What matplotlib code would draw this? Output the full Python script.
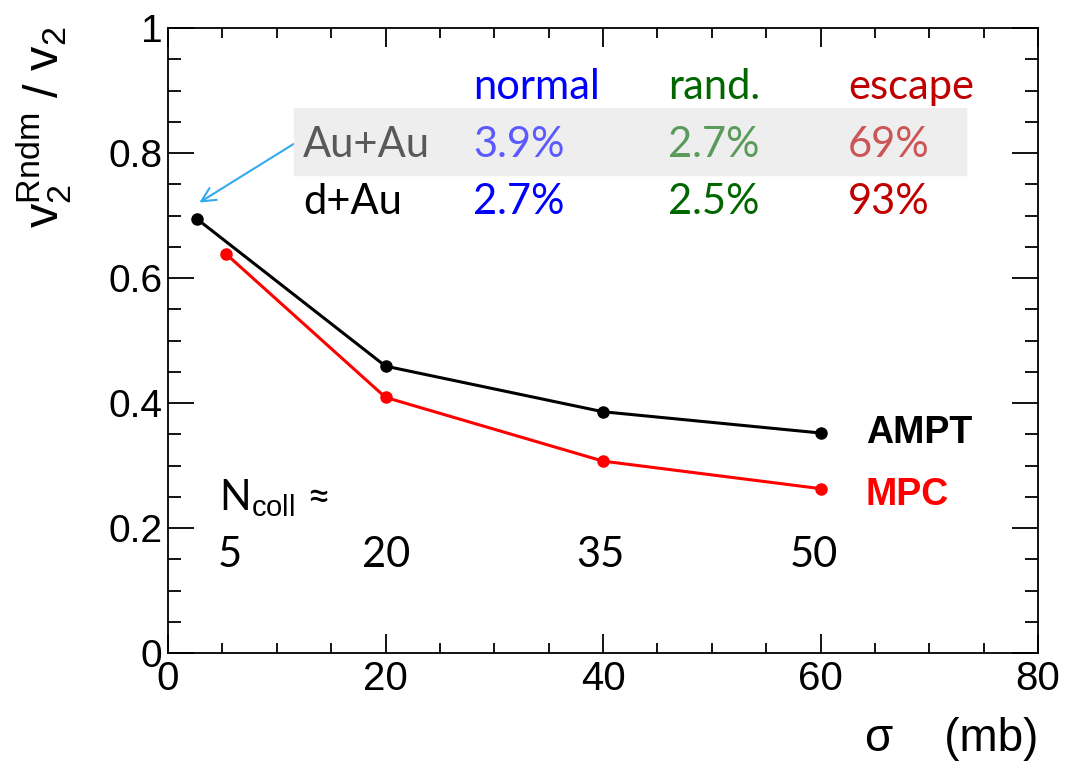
import matplotlib
matplotlib.use("Agg")
import matplotlib.pyplot as plt
from matplotlib.patches import Rectangle
from matplotlib.ticker import MultipleLocator, FuncFormatter

# 데이터
SIGMA_AMPT = [2.7, 20.0, 40.0, 60.0]
RATIO_AMPT = [0.694, 0.459, 0.386, 0.352]
SIGMA_MPC = [5.3, 20.0, 40.0, 60.0]
RATIO_MPC = [0.639, 0.409, 0.307, 0.263]

COLS = ["normal", "rand.", "escape"]
ROWS = ["Au+Au", "d+Au"]
VALS = [["3.9%", "2.7%", "69%"],
        ["2.7%", "2.5%", "93%"]]
NCOLL = ["5", "20", "35", "50"]

plt.rcParams["font.family"] = ["Liberation Sans", "DejaVu Sans"]
plt.rcParams["mathtext.fontset"] = "custom"
plt.rcParams["mathtext.rm"] = "Liberation Sans"
plt.rcParams["mathtext.it"] = "Liberation Sans"
CAL = ["Lato", "DejaVu Sans"]
FS = 30

W, H = 1068, 763
fig = plt.figure(figsize=(W / 100, H / 100), dpi=100)
X0, X1, YT, YB = 168, 1038, 28, 653
ax = fig.add_axes([X0 / W, 1 - YB / H, (X1 - X0) / W, (YB - YT) / H])


def fx(px):   # pixel -> figure fraction
    return px / W


def fy(py):
    return 1 - py / H


ax.plot(SIGMA_AMPT, RATIO_AMPT, "-o", color="black", lw=2.2, ms=8)
ax.plot(SIGMA_MPC, RATIO_MPC, "-o", color="red", lw=2.2, ms=8)

ax.set_xlim(0, 80); ax.set_ylim(0, 1)
ax.xaxis.set_major_locator(MultipleLocator(20)); ax.xaxis.set_minor_locator(MultipleLocator(5))
ax.yaxis.set_major_locator(MultipleLocator(0.2)); ax.yaxis.set_minor_locator(MultipleLocator(0.05))
ax.yaxis.set_major_formatter(FuncFormatter(lambda v, _: f"{v:g}"))
ax.tick_params(which="both", direction="in", top=True, right=True, width=1.3)
ax.tick_params(axis="x", which="major", length=14, labelsize=29, pad=5)
ax.tick_params(axis="x", which="minor", length=7)
ax.tick_params(axis="y", which="major", length=19, labelsize=28, pad=4)
ax.tick_params(axis="y", which="minor", length=9.5)
for sp in ax.spines.values():
    sp.set_linewidth(1.3)

fig.text(fx(44), fy(27), r"v$_2^{\mathrm{Rndm}}$ / v$_2$", rotation=90,
         ha="center", va="top", fontsize=35)
fig.text(fx(1038), fy(751), "σ    (mb)", ha="right", va="baseline", fontsize=33)

# 회색 박스 + 표
fig.patches.append(Rectangle((fx(294), fy(175)), fx(966) - fx(294), fy(108) - fy(175),
                             transform=fig.transFigure, color="#eeeeee", zorder=0))
col_x = [473, 668, 848]
head_c = ["#0000ff", "#006600", "#c00000"]
row_c = [["#5a5aff", "#5a9a5a", "#cc5555"], ["#0000ff", "#006600", "#c00000"]]
row_lab_c = ["#595959", "black"]
row_y = [157, 214]
for j, c in enumerate(COLS):
    fig.text(fx(col_x[j]), fy(99), c, color=head_c[j], fontsize=FS, family=CAL, va="baseline")
for i, r in enumerate(ROWS):
    fig.text(fx(303), fy(row_y[i]), r, color=row_lab_c[i], fontsize=FS, family=CAL, va="baseline")
    for j in range(3):
        fig.text(fx(col_x[j]), fy(row_y[i]), VALS[i][j], color=row_c[i][j],
                 fontsize=FS, family=CAL, va="baseline")

ax.annotate("", xy=(fx(197), fy(204)), xytext=(fx(300), fy(140)),
            xycoords="figure fraction", textcoords="figure fraction",
            arrowprops=dict(arrowstyle="->", color="#33aaee", lw=1.5, mutation_scale=25))

fig.text(fx(219), fy(510), r"N$_{\mathrm{coll}}$ ≈", fontsize=FS, family=CAL, va="baseline")
for k, n in enumerate(NCOLL):
    fig.text(fx([218, 362, 576, 790][k]), fy(567), n, fontsize=FS, family=CAL, va="baseline")

fig.text(fx(866), fy(443), "AMPT", fontsize=27, weight="bold", va="baseline")
fig.text(fx(866), fy(505), "MPC", fontsize=27, weight="bold", color="red", va="baseline")

fig.savefig("out.png", dpi=100)
